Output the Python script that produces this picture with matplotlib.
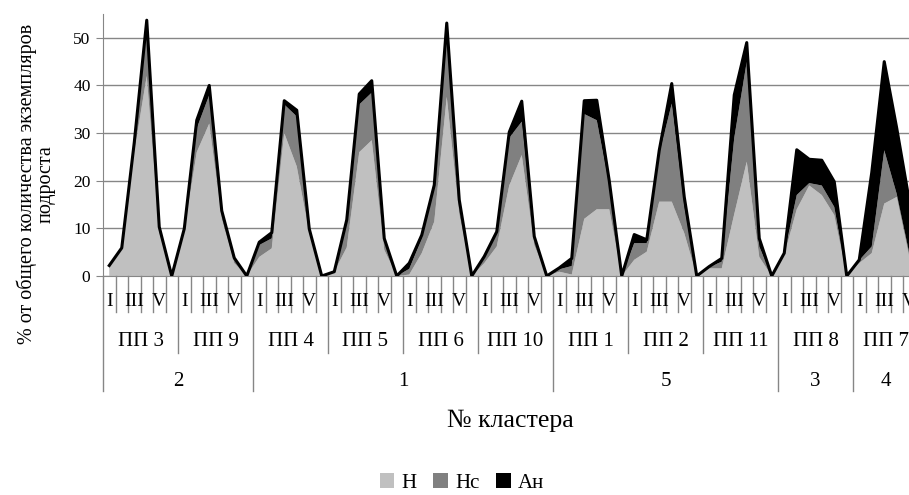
import numpy as np
import matplotlib
matplotlib.use('Agg')
import matplotlib.pyplot as plt
from matplotlib.patches import Patch

plt.rcParams['font.family'] = ['Liberation Serif', 'DejaVu Serif']

# plots (ПП) in axis order, grouped by cluster
plots = ['ПП 3', 'ПП 9', 'ПП 4', 'ПП 5', 'ПП 6', 'ПП 10',
         'ПП 1', 'ПП 2', 'ПП 11', 'ПП 8', 'ПП 7']
clusters = ['2', '1', '5', '3', '4']
cluster_sizes = [2, 4, 3, 1, 1]
stages = ['I', 'II', 'III', 'IV', 'V', '']

# % of undergrowth per stage I..V (+ empty slot) for every plot
H = [2.0, 5.8, 26, 42, 9, 0,
     9.5, 26, 32, 12, 2.7, 0,
     4, 5.8, 30, 23, 9, 0,
     0.9, 6, 26, 28.5, 5.5, 0,
     0.3, 4.8, 11.4, 37.6, 13, 0,
     2.7, 6.2, 19, 25.4, 6.5, 0,
     0.9, 0.3, 12, 14, 14, 0,
     3.4, 5.1, 15.6, 15.6, 9, 0,
     1.6, 1.6, 13, 24, 4, 0,
     4.4, 14, 19, 17, 12.8, 0,
     2.7, 4.8, 15.2, 16.6, 4, 0]
Hc = [0.2, 0.1, 1.5, 11, 1, 0,
      0.3, 5, 6, 1.2, 0.8, 0,
      2.5, 2.1, 6, 10.5, 0.6, 0,
      0, 5.4, 10, 10, 2, 0,
      1.2, 3.1, 7, 12, 2.4, 0,
      1.1, 2.8, 10, 7, 1.3, 0,
      0.5, 1.8, 22, 18.7, 5, 0,
      3.5, 1.8, 10, 20.6, 5.5, 0,
      0.3, 1.4, 16, 21, 2.2, 0,
      0.3, 3, 0.5, 2, 1.7, 0,
      0.6, 1.4, 11.2, 0.6, 0.8, 0]
An = [0, 0, 0.5, 0.7, 0.3, 0,
      0.1, 1.7, 2, 0.5, 0.3, 0,
      0.6, 1.2, 0.8, 1.3, 0.3, 0,
      0, 0.4, 2.2, 2.5, 0.4, 0,
      1.2, 0.7, 0.7, 3.5, 0.6, 0,
      0.3, 0.3, 1.2, 4.3, 0.5, 0,
      0.3, 1.6, 2.8, 4.2, 1, 0,
      1.8, 0.7, 0.8, 4.2, 2.1, 0,
      0.1, 0.7, 9, 4, 1.7, 0,
      0.1, 9.5, 5, 5.3, 5.3, 0,
      0.1, 15.5, 18.6, 13.8, 11, 0]

series_names = ['Н', 'Нс', 'Ан']
colors = ['#c0c0c0', '#808080', '#000000']
grey = '#868686'

n = len(stages)
x = np.arange(len(H))
total = np.array(H) + np.array(Hc) + np.array(An)

fig = plt.figure(figsize=(9.09, 4.95), dpi=100)
# plot area runs past the right edge of the picture, as in the original
ax = fig.add_axes([103 / 909, 219 / 495, 825 / 909, 262 / 495])

ax.stackplot(x, H, Hc, An, colors=colors, zorder=2)
ax.plot(x, total, color='black', lw=2.2, zorder=3)

ax.set_xlim(-0.5, len(H) - 0.5)
ax.set_ylim(0, 55)
ax.set_yticks(range(0, 51, 10))
ax.yaxis.grid(True, color=grey, lw=1)
ax.set_axisbelow(True)
ax.tick_params(axis='y', length=5, color=grey, labelsize=12.5, pad=4)
ax.set_xticks([])
for s in ['top', 'right']:
    ax.spines[s].set_visible(False)
for s in ['left', 'bottom']:
    ax.spines[s].set_color(grey)

# multi-level category axis
tr = ax.get_xaxis_transform()
px = 1 / 262
line_kw = dict(transform=tr, clip_on=False, color=grey, lw=1)
group_edges = np.arange(len(plots) + 1) * n - 0.5
cl_edges = np.concatenate([[0], np.cumsum(cluster_sizes)]) * n - 0.5
x_visible = (909 - 103) / 12.5 - 0.5   # last category position inside the picture

for b in np.arange(len(H) + 1) - 0.5:
    if b in cl_edges:
        depth = 115
    elif b in group_edges:
        depth = 77
    else:
        depth = 36
    ax.plot([b, b], [0, -depth * px], **line_kw)

for g, name in enumerate(plots):
    for c in range(0, 5, 2):
        ax.text(g * n + c, -25 * px, stages[c], transform=tr,
                ha='center', va='center', fontsize=14)
    mid = g * n + (n - 1) / 2
    if g == len(plots) - 1:
        mid = (g * n - 0.5 + x_visible) / 2 + 0.4
    ax.text(mid, -66 * px, name, transform=tr,
            ha='center', va='center', fontsize=15)

for k, name in enumerate(clusters):
    mid = (cl_edges[k] + cl_edges[k + 1]) / 2
    if k == len(clusters) - 1:
        mid = (cl_edges[k] + x_visible) / 2 + 0.4
    ax.text(mid, -105 * px, name, transform=tr,
            ha='center', va='center', fontsize=15)

fig.text(510 / 909, 1 - 421 / 495, '№ кластера', ha='center', va='center',
         fontsize=18.5)
fig.text(36 / 909, 1 - 184 / 495,
         '% от общего количества экземпляров\nподроста',
         rotation=90, ha='center', va='center', fontsize=14.5, linespacing=0.95)

handles = [Patch(facecolor=c, edgecolor='none') for c in colors]
fig.legend(handles, series_names, loc='center', bbox_to_anchor=(462 / 909, 1 - 483 / 495),
           ncol=3, frameon=False, fontsize=15, handlelength=0.7, handleheight=0.7,
           handletextpad=0.35, columnspacing=0.8)

fig.savefig('out.png', dpi=100)
